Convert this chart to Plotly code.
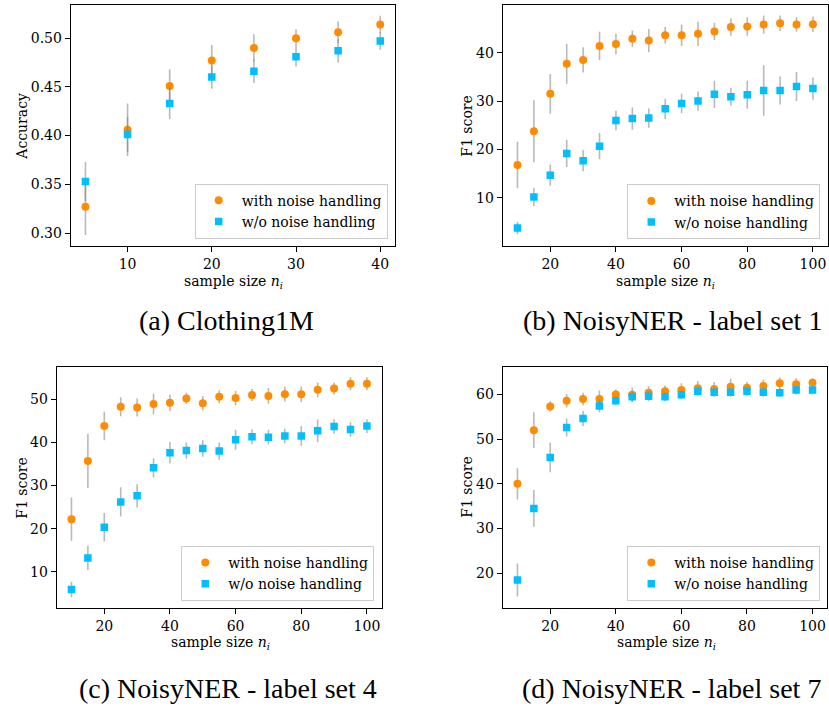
import plotly.graph_objects as go

W, H = 829, 707

# ---------------- data ----------------
x_a = [5, 10, 15, 20, 25, 30, 35, 40]
a_with = [0.327, 0.406, 0.451, 0.477, 0.490, 0.500, 0.506, 0.514]
a_with_err = [0.029, 0.027, 0.017, 0.016, 0.014, 0.009, 0.011, 0.009]
a_wo = [0.353, 0.401, 0.433, 0.460, 0.466, 0.481, 0.487, 0.497]
a_wo_err = [0.020, 0.018, 0.016, 0.012, 0.012, 0.010, 0.012, 0.009]

x_ner = [10, 15, 20, 25, 30, 35, 40, 45, 50, 55, 60, 65, 70, 75, 80, 85, 90, 95, 100]

b_with = [16.8, 23.8, 31.5, 37.7, 38.5, 41.4, 41.8, 42.9, 42.5, 43.6, 43.6, 43.9, 44.4, 45.3, 45.4, 45.8, 46.1, 45.8, 45.9]
b_with_err = [4.8, 6.4, 4.1, 4.1, 2.6, 2.9, 2.1, 1.7, 2.4, 1.7, 2.2, 2.5, 1.8, 1.8, 1.9, 1.9, 1.6, 1.5, 1.6]
b_wo = [3.8, 10.2, 14.7, 19.2, 17.7, 20.7, 26.0, 26.4, 26.5, 28.4, 29.5, 30.0, 31.4, 30.9, 31.3, 32.2, 32.2, 33.0, 32.6]
b_wo_err = [1.3, 1.9, 2.2, 2.8, 2.2, 2.7, 2.0, 2.3, 2.0, 2.1, 2.0, 2.0, 2.8, 1.8, 2.9, 5.2, 2.9, 3.0, 2.3]

c_with = [22.2, 35.7, 43.8, 48.3, 48.1, 48.9, 49.2, 50.2, 49.1, 50.6, 50.3, 51.0, 50.8, 51.2, 51.2, 52.2, 52.5, 53.6, 53.6]
c_with_err = [5.0, 6.3, 3.3, 2.2, 2.1, 2.4, 1.9, 1.3, 1.7, 1.5, 1.7, 1.4, 1.8, 1.7, 1.8, 1.7, 1.4, 1.5, 1.5]
c_wo = [5.9, 13.2, 20.3, 26.2, 27.6, 34.1, 37.6, 38.1, 38.6, 38.0, 40.6, 41.3, 41.2, 41.5, 41.5, 42.7, 43.7, 43.0, 43.8]
c_wo_err = [1.8, 2.8, 3.3, 3.4, 2.7, 2.2, 2.5, 1.9, 1.9, 2.0, 2.3, 1.7, 1.7, 1.7, 2.3, 2.6, 1.7, 1.7, 1.6]

d_with = [40.0, 52.0, 57.3, 58.6, 59.0, 59.0, 60.0, 59.9, 60.4, 60.7, 61.0, 61.4, 61.2, 61.7, 61.5, 61.9, 62.5, 62.3, 62.6]
d_with_err = [3.5, 4.0, 1.2, 1.5, 1.4, 1.9, 1.1, 1.6, 1.4, 1.3, 1.5, 1.6, 1.6, 1.8, 1.3, 1.4, 1.3, 1.3, 1.0]
d_wo = [18.5, 34.5, 45.9, 52.6, 54.6, 57.4, 58.6, 59.5, 59.6, 59.5, 59.9, 60.7, 60.5, 60.5, 60.7, 60.5, 60.4, 61.0, 61.0]
d_wo_err = [3.7, 4.1, 3.3, 2.0, 1.7, 1.4, 1.0, 1.1, 1.1, 1.0, 1.0, 1.0, 1.0, 1.0, 1.0, 1.0, 1.0, 1.0, 1.0]

series_names = ["with noise handling", "w/o noise handling"]
captions = ["(a) Clothing1M", "(b) NoisyNER - label set 1",
            "(c) NoisyNER - label set 4", "(d) NoisyNER - label set 7"]
y_titles = ["Accuracy", "F1 score", "F1 score", "F1 score"]
x_title = "sample size <i>n</i><sub><i>i</i></sub>"

# ---------------- style ----------------
ORANGE = "#FF8C00"
BLUE = "#00BFFF"
ERRC = "rgba(128,128,128,0.55)"
FONT = "DejaVu Serif, Liberation Serif, serif"
CAPFONT = "Liberation Serif, DejaVu Serif, serif"

def px(x):
    return x / W

def py(y):
    return 1 - y / H

# panel boxes in pixels: left, right, top, bottom
boxes = [
    (70.7, 395.0, 5.0, 246.0),
    (502.7, 827.7, 5.0, 246.0),
    (56.7, 381.7, 366.7, 607.7),
    (502.7, 827.3, 366.7, 607.7),
]
xranges = [[3.25, 41.75], [5.5, 104.5], [5.5, 104.5], [5.5, 104.5]]
yranges = [[0.2867, 0.534], [0.08, 49.85], [1.65, 57.57], [12.3, 66.2]]
xticks = [[10, 20, 30, 40], [20, 40, 60, 80, 100], [20, 40, 60, 80, 100], [20, 40, 60, 80, 100]]
yticks = [[0.30, 0.35, 0.40, 0.45, 0.50], [10, 20, 30, 40], [10, 20, 30, 40, 50], [20, 30, 40, 50, 60]]
ytickfmt = [".2f", "d", "d", "d"]
legend_boxes = [  # right, bottom pixels
    (387.7, 238.7), (820.3, 239.3), (374.3, 601.0), (820.3, 601.0)
]
ytitle_pos = [(21.7, 126), (466.7, 126), (21.7, 488), (466.7, 487)]
xtitle_pos = [(233.5, 281.5), (665.5, 281.5), (220.8, 642.5), (666.7, 642.5)]
caption_pos = [(226, 320), (672, 320), (228, 688), (671, 688)]

panels = [
    (x_a, a_with, a_with_err, a_wo, a_wo_err),
    (x_ner, b_with, b_with_err, b_wo, b_wo_err),
    (x_ner, c_with, c_with_err, c_wo, c_wo_err),
    (x_ner, d_with, d_with_err, d_wo, d_wo_err),
]

fig = go.Figure()
layout = dict(
    width=W, height=H, margin=dict(l=0, r=0, t=0, b=0),
    paper_bgcolor="white", plot_bgcolor="white",
    font=dict(family=FONT, size=14, color="black"),
    showlegend=True, annotations=[],
)

for i, (xs, yw, ew, yo, eo) in enumerate(panels):
    k = "" if i == 0 else str(i + 1)
    leg = "legend" if i == 0 else "legend" + str(i + 1)
    xa, ya = "x" + k, "y" + k
    fig.add_trace(go.Scatter(
        x=xs, y=yw, mode="markers", name=series_names[0],
        marker=dict(symbol="circle", size=8, color=ORANGE),
        error_y=dict(type="data", array=ew, visible=True, color=ERRC, thickness=1.6, width=0),
        xaxis=xa, yaxis=ya, legend=leg,
    ))
    fig.add_trace(go.Scatter(
        x=xs, y=yo, mode="markers", name=series_names[1],
        marker=dict(symbol="square", size=7.5, color=BLUE),
        error_y=dict(type="data", array=eo, visible=True, color=ERRC, thickness=1.6, width=0),
        xaxis=xa, yaxis=ya, legend=leg,
    ))
    l, r, t, b = boxes[i]
    axcommon = dict(showline=True, linecolor="black", linewidth=1, mirror=True,
                    ticks="outside", ticklen=5, tickwidth=1, tickcolor="black",
                    showgrid=False, zeroline=False,
                    tickfont=dict(family=FONT, size=14, color="black"))
    layout["xaxis" + k] = dict(domain=[px(l), px(r)], range=xranges[i],
                               tickvals=xticks[i], anchor=ya, **axcommon)
    layout["yaxis" + k] = dict(domain=[py(b), py(t)], range=yranges[i],
                               tickvals=yticks[i], tickformat=ytickfmt[i], anchor=xa, **axcommon)
    lr, lb = legend_boxes[i]
    layout[leg] = dict(x=px(lr), y=py(lb), xanchor="right", yanchor="bottom",
                       bgcolor="white", bordercolor="#cccccc", borderwidth=1,
                       font=dict(family=FONT, size=14, color="black"),
                       itemwidth=36)
    tx, ty = ytitle_pos[i]
    layout["annotations"].append(dict(
        x=px(tx), y=py(ty), xref="paper", yref="paper", text=y_titles[i],
        showarrow=False, textangle=-90, xanchor="center", yanchor="middle",
        font=dict(family=FONT, size=14, color="black")))
    tx, ty = xtitle_pos[i]
    layout["annotations"].append(dict(
        x=px(tx), y=py(ty), xref="paper", yref="paper", text=x_title,
        showarrow=False, xanchor="center", yanchor="middle",
        font=dict(family=FONT, size=14, color="black")))
    tx, ty = caption_pos[i]
    layout["annotations"].append(dict(
        x=px(tx), y=py(ty), xref="paper", yref="paper", text=captions[i],
        showarrow=False, xanchor="center", yanchor="middle",
        font=dict(family=CAPFONT, size=28, color="black")))

fig.update_layout(**layout)
fig.write_html("out.html")
